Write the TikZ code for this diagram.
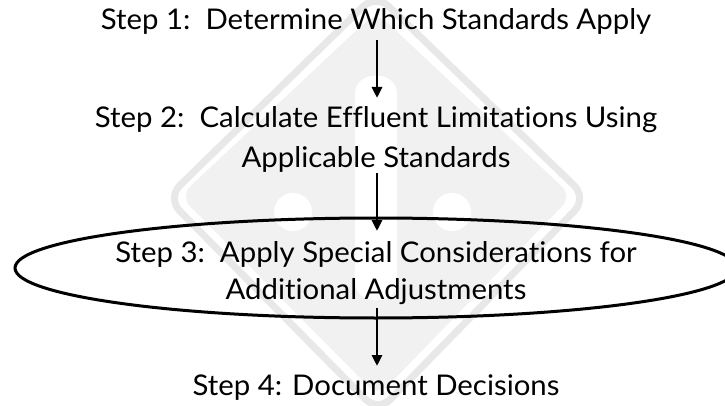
\documentclass[tikz,border=0pt]{standalone}
\usepackage{fontspec}
\setmainfont[FakeStretch=1.03,Ligatures=NoCommon]{Lato}
\usetikzlibrary{arrows.meta,shapes.geometric}
\definecolor{wmgray}{HTML}{E8E8E8}
\definecolor{wmlight}{HTML}{F1F1F1}
\tikzset{
  steptext/.style={font=\fontsize{28.5}{40}\selectfont, align=center, inner sep=0pt},
  flowarrow/.style={line width=2.8pt, -{Triangle[width=10pt,length=11pt]}},
  wmband/.style={draw=wmgray, line width=7pt, rounded corners=18pt},
}
\begin{document}
\begin{tikzpicture}[x=1pt,y=-1pt]
\useasboundingbox (0,0) rectangle (725,406);
\fill[white] (0,0) rectangle (725,406);
% watermark
\draw[wmband] (376,-6) -- (167,198) -- (378,412) -- (587,198) -- cycle;
\fill[wmlight, rounded corners=14pt] (376,12) -- (180,196) -- (378,396) -- (572,196) -- cycle;
\fill[white, rounded corners=18pt] (355,76) rectangle (397,300);
\fill[white] (293,212) circle (19);
\fill[white] (452,212) circle (19);
% nodes
\node[steptext, anchor=base] (s1) at (376,30) {Step 1:\ \ Determine Which Standards Apply};
\node[steptext, anchor=base] (s2) at (376,168) {Step 2:\ \ Calculate Effluent Limitations Using\\Applicable Standards};
\node[draw, ellipse, line width=3pt, minimum width=722pt, minimum height=100pt, inner sep=0pt] (e3) at (376,268) {};
\node[steptext, anchor=base, font=\fontsize{28.5}{37}\selectfont] (s3) at (376,299) {Step 3:\ \ Apply Special Considerations for\\Additional Adjustments};
\node[steptext, anchor=base] (s4) at (376,395) {Step 4: Document Decisions};
\coordinate (a1s) at (377,40);
\coordinate (a1e) at (377,98);
\coordinate (a2s) at (377,173);
\coordinate (a2e) at (377,231);
\coordinate (a3s) at (377,308);
\coordinate (a3e) at (377,366);
\draw[flowarrow] (a1s) -- (a1e);
\draw[flowarrow] (a2s) -- (a2e);
\draw[flowarrow] (a3s) -- (a3e);
\end{tikzpicture}
\end{document}
